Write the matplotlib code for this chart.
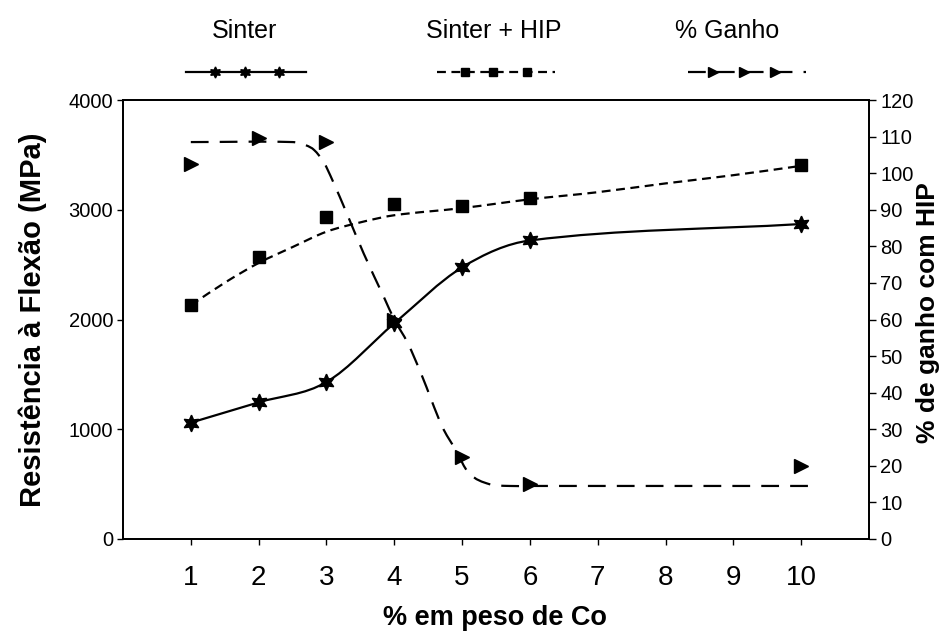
import numpy as np
import matplotlib.pyplot as plt
from matplotlib.path import Path
from matplotlib.patches import PathPatch
from matplotlib.lines import Line2D

plt.rcParams['font.family'] = ['Liberation Sans', 'DejaVu Sans']

# measured points
co = [1, 2, 3, 4, 5, 6, 10]
sinter = [1060, 1245, 1430, 1965, 2475, 2720, 2870]          # MPa
sinter_hip = [2135, 2570, 2930, 3050, 3035, 3105, 3405]      # MPa
ganho = [102.5, 109.5, 108.5, 60, 22.5, 15, 20]              # %

# trend lines
hip_fit_x = [1, 1.5, 2, 2.5, 3, 3.5, 4, 5, 6, 7, 8, 9, 10]
hip_fit_y = [2130, 2335, 2515, 2660, 2800, 2885, 2950, 3015, 3095, 3160, 3240, 3315, 3400]
gain_fit_x = [1.0, 2.5, 2.7, 2.82, 2.96, 3.09, 3.3, 3.55, 3.85, 4.0, 4.2, 4.4, 4.7,
              4.9, 5.1, 5.4, 5.7, 6.0, 10.25]
gain_fit_y = [108.5, 108.5, 107.6, 106.3, 103, 98, 89, 78, 66, 60, 53.5, 45, 31,
              24.5, 18, 15, 14.5, 14.5, 14.5]

x_ticks = [1, 2, 3, 4, 5, 6, 7, 8, 9, 10]


def smooth_path(x, y):
    # cubic hermite through the points, drawn as bezier segments
    x = np.asarray(x, float)
    y = np.asarray(y, float)
    m = np.empty(len(x))
    m[0] = (y[1] - y[0]) / (x[1] - x[0])
    m[-1] = (y[-1] - y[-2]) / (x[-1] - x[-2])
    m[1:-1] = (y[2:] - y[:-2]) / (x[2:] - x[:-2])
    verts = [(x[0], y[0])]
    codes = [Path.MOVETO]
    for i in range(len(x) - 1):
        h = x[i + 1] - x[i]
        verts += [(x[i] + h / 3, y[i] + m[i] * h / 3),
                  (x[i + 1] - h / 3, y[i + 1] - m[i + 1] * h / 3),
                  (x[i + 1], y[i + 1])]
        codes += [Path.CURVE4] * 3
    return Path(verts, codes)


fig = plt.figure(figsize=(9.44, 6.35), dpi=100)
ax = fig.add_axes([123 / 944, 96 / 635, 746 / 944, 439 / 635])
ax2 = ax.twinx()

star = (6, 1, 0)

ax.add_patch(PathPatch(smooth_path(co, sinter), fill=False, ec='k', lw=1.6, zorder=2))
ax.plot(co, sinter, ls='none', marker=star, ms=12, color='k', zorder=3)

ax.add_patch(PathPatch(smooth_path(hip_fit_x, hip_fit_y), fill=False, ec='k', lw=1.6,
                       ls=(0, (4, 2.5)), zorder=2))
ax.plot(co, sinter_hip, ls='none', marker='s', ms=8.5, color='k', zorder=3)

ax2.add_patch(PathPatch(smooth_path(gain_fit_x, gain_fit_y), fill=False, ec='k', lw=1.6,
                        ls=(0, (8, 5)), zorder=2))
ax2.plot(co, ganho, ls='none', marker='>', ms=10, color='k', zorder=3)

ax.set_xlim(0, 11)
ax.set_ylim(0, 4000)
ax2.set_ylim(0, 120)
ax.set_xticks(x_ticks)
ax.set_yticks(np.arange(0, 4001, 1000))
ax2.set_yticks(np.arange(0, 121, 10))

ax.tick_params(axis='y', direction='out', length=4, width=1, labelsize=14.5, pad=3)
ax.tick_params(axis='x', direction='out', length=4, width=1, labelsize=20, pad=15)
ax2.tick_params(axis='y', direction='out', length=5, width=1, labelsize=14.5, pad=3)
for lbl in ax.get_xticklabels():
    lbl.set_family(['Liberation Sans Narrow', 'Liberation Sans'])

for sp in ax.spines.values():
    sp.set_linewidth(1.3)
for sp in ax2.spines.values():
    sp.set_linewidth(1.3)

fig.text(33 / 944, 1 - 320 / 635, 'Resistência à Flexão (MPa)', rotation=90,
         ha='center', va='center', fontsize=21, fontweight='bold')
fig.text(928 / 944, 1 - 313 / 635, '% de ganho com HIP', rotation=90,
         ha='center', va='center', fontsize=19, fontweight='bold')
fig.text(495 / 944, 1 - 618 / 635, '% em peso de Co',
         ha='center', va='center', fontsize=19.5, fontweight='bold')

# legend across the top
leg_y = 1 - 72 / 635
for label, cx in [('Sinter', 245), ('Sinter + HIP', 494), ('% Ganho', 727)]:
    fig.text(cx / 944, 1 - 31 / 635, label, ha='center', va='center', fontsize=18)

fig.add_artist(Line2D(np.array([186, 215, 245, 279, 306]) / 944, [leg_y] * 5,
                      transform=fig.transFigure, color='k', lw=1.6,
                      marker=star, ms=8, markevery=[1, 2, 3]))
fig.add_artist(Line2D(np.array([437, 465, 493, 527, 555]) / 944, [leg_y] * 5,
                      transform=fig.transFigure, color='k', lw=1.6, ls=(0, (4, 2.5)),
                      marker='s', ms=5.5, markevery=[1, 2, 3]))
fig.add_artist(Line2D(np.array([688, 713, 744, 775, 806]) / 944, [leg_y] * 5,
                      transform=fig.transFigure, color='k', lw=1.6, ls=(0, (8, 5)),
                      marker='>', ms=6.5, markevery=[1, 2, 3]))

fig.savefig('out.png', dpi=100)
